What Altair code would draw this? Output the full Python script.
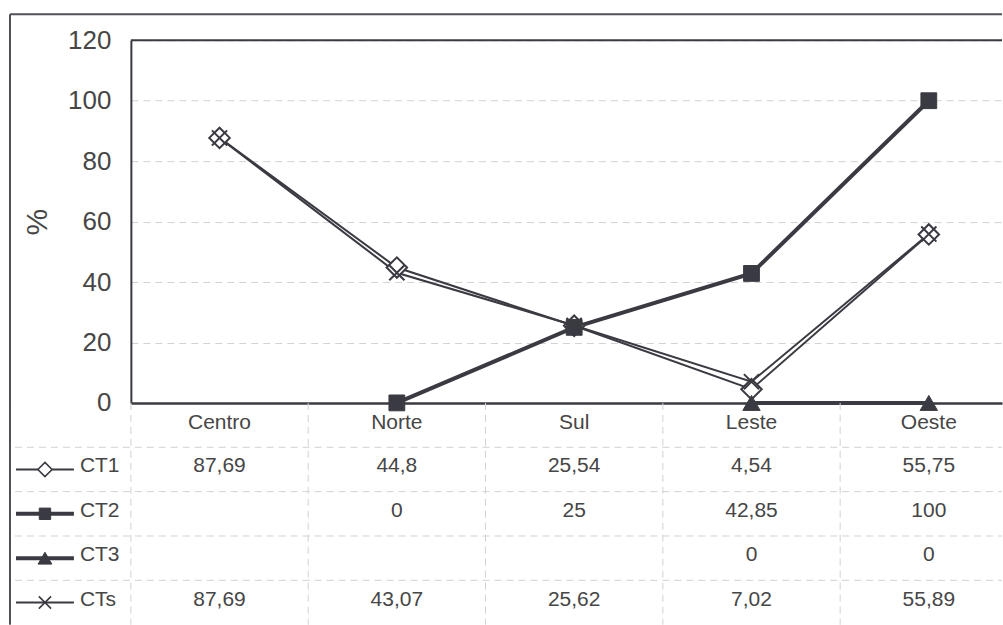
import altair as alt
import pandas as pd

# --- data -------------------------------------------------------------
regions = ["Centro", "Norte", "Sul", "Leste", "Oeste"]
series_names = ["CT1", "CT2", "CT3", "CTs"]
ct1 = [87.69, 44.8, 25.54, 4.54, 55.75]
ct2 = [None, 0, 25, 42.85, 100]
ct3 = [None, None, None, 0, 0]
cts = [87.69, 43.07, 25.62, 7.02, 55.89]
y_ticks = [0, 20, 40, 60, 80, 100, 120]

values_by_series = dict(zip(series_names, [ct1, ct2, ct3, cts]))

records = []
for s_i, name in enumerate(series_names):
    for r_i, region in enumerate(regions):
        v = values_by_series[name][r_i]
        if v is None:
            continue
        records.append({
            "serie": name,
            "row": s_i + 1,
            "regiao": region,
            "idx": r_i,
            "valor": v,
            "rotulo": f"{v:g}".replace(".", ","),
        })
df = pd.DataFrame(records)
header_df = pd.DataFrame({"regiao": regions, "idx": list(range(len(regions))), "row": 0})
legend_df = pd.DataFrame({"serie": series_names, "row": list(range(1, len(series_names) + 1))})
col_bounds = pd.DataFrame({"b": [i - 0.5 for i in range(len(regions))]})
row_bounds = pd.DataFrame({"b": [r + 0.5 for r in range(len(series_names))]})

# --- style ------------------------------------------------------------
FONT = "Liberation Sans"
INK = "#3a3a42"
TEXT = "#464646"
GRID = "#d2d2d2"
W, H_TOP, H_TAB = 872, 363, 222

x_scale = alt.Scale(domain=[-0.5, 4.4127], nice=False, zero=False)
y_scale = alt.Scale(domain=[0, 120], nice=False)
row_scale = alt.Scale(domain=[-0.5, 4.5], reverse=True, nice=False, zero=False)
line_widths = {"CT1": 2, "CT2": 4, "CT3": 4, "CTs": 2}

x_enc = alt.X(
    "idx:Q", scale=x_scale,
    axis=alt.Axis(labels=False, ticks=False, grid=False, domain=True,
                  domainColor=INK, domainWidth=2.5, title=None),
)
y_enc = alt.Y(
    "valor:Q", scale=y_scale,
    axis=alt.Axis(
        values=y_ticks, title="%", titleFont=FONT, titleFontSize=30,
        titleFontWeight="normal", titleColor=TEXT, titleAngle=270,
        titleX=-93, titleY=H_TOP / 2, titleAlign="center", titleBaseline="middle",
        labelFont=FONT, labelFontSize=26, labelColor=TEXT, labelPadding=20,
        ticks=False, domain=True, domainColor=INK, domainWidth=2,
        grid=True, gridColor=GRID, gridDash=[7, 5], gridWidth=1,
    ),
)

one = pd.DataFrame({"k": [0]})

# --- line chart -------------------------------------------------------
frame_left_top = alt.Chart(one).mark_rule(color="#505058", strokeWidth=2).encode(
    x=alt.value(-121), y=alt.value(-26), y2=alt.value(H_TOP)
)
frame_top = alt.Chart(one).mark_rule(color="#505058", strokeWidth=2).encode(
    x=alt.value(-121), x2=alt.value(W), y=alt.value(-26)
)
top_border = alt.Chart(one).mark_rule(color=INK, strokeWidth=2).encode(
    y=alt.datum(120, scale=y_scale)
)

base = alt.Chart(df)
lines = [
    base.transform_filter(alt.datum.serie == name)
    .mark_line(color=INK, strokeWidth=line_widths[name])
    .encode(x=x_enc, y=y_enc, order="idx:Q")
    for name in series_names
]

marker_styles = {
    "CT1": dict(shape="diamond", size=420, filled=True, fill="white", stroke=INK, strokeWidth=2),
    "CT2": dict(shape="square", size=250, filled=True, fill=INK, stroke=INK, strokeWidth=1),
    "CT3": dict(shape="triangle-up", size=300, filled=True, fill=INK, stroke=INK, strokeWidth=1),
    "CTs": dict(shape="M-1,-1L1,1M-1,1L1,-1", size=230, filled=False, stroke=INK, strokeWidth=2),
}
legend_marker_styles = {
    "CT1": dict(shape="diamond", size=200, filled=True, fill="white", stroke=INK, strokeWidth=1.6),
    "CT2": dict(shape="square", size=130, filled=True, fill=INK, stroke=INK, strokeWidth=1),
    "CT3": dict(shape="triangle-up", size=190, filled=True, fill=INK, stroke=INK, strokeWidth=1),
    "CTs": dict(shape="M-1,-1L1,1M-1,1L1,-1", size=150, filled=False, stroke=INK, strokeWidth=1.6),
}

markers = [
    base.transform_filter(alt.datum.serie == name)
    .mark_point(opacity=1, **marker_styles[name])
    .encode(x=x_enc, y=y_enc)
    for name in series_names
]

top = alt.layer(
    frame_left_top, frame_top, *lines, *markers, top_border
).properties(width=W, height=H_TOP)

# --- data table -------------------------------------------------------
x_tab = alt.X("idx:Q", scale=x_scale, axis=None)
y_tab = alt.Y("row:Q", scale=row_scale, axis=None)

v_lines = alt.Chart(col_bounds).mark_rule(color=GRID, strokeDash=[7, 5], strokeWidth=1).encode(
    x=alt.X("b:Q", scale=x_scale, axis=None)
)
h_lines = alt.Chart(row_bounds).mark_rule(color=GRID, strokeDash=[7, 5], strokeWidth=1).encode(
    y=alt.Y("b:Q", scale=row_scale, axis=None), x=alt.value(-116), x2=alt.value(W)
)
frame_left_tab = alt.Chart(one).mark_rule(color="#505058", strokeWidth=2).encode(
    x=alt.value(-121), y=alt.value(0), y2=alt.value(H_TAB)
)

header_text = alt.Chart(header_df).mark_text(
    font=FONT, fontSize=21, color=TEXT, dy=-2
).encode(x=x_tab, y=y_tab, text="regiao:N")

value_text = alt.Chart(df).mark_text(
    font=FONT, fontSize=21, color=TEXT, dy=-3
).encode(x=x_tab, y=y_tab, text="rotulo:N")

legend_base = alt.Chart(legend_df)
legend_lines = [
    legend_base.transform_filter(alt.datum.serie == name)
    .mark_rule(color=INK, strokeWidth=line_widths[name])
    .encode(x=alt.value(-115), x2=alt.value(-57), y=y_tab)
    for name in series_names
]
legend_markers = [
    legend_base.transform_filter(alt.datum.serie == name)
    .mark_point(opacity=1, **legend_marker_styles[name])
    .encode(x=alt.value(-86), y=y_tab)
    for name in series_names
]
legend_labels = legend_base.mark_text(
    font=FONT, fontSize=21, color=TEXT, align="left", dy=-3
).encode(x=alt.value(-51), y=y_tab, text="serie:N")

table = alt.layer(
    v_lines, h_lines, frame_left_tab, header_text, value_text,
    *legend_lines, *legend_markers, legend_labels
).properties(width=W, height=H_TAB)

chart = alt.vconcat(top, table, spacing=0, bounds="flush").properties(
    padding={"left": 9, "top": 13, "right": 0, "bottom": 0},
    background="white",
).configure_view(stroke=None)

chart.save("out.html", embed_options={"renderer": "svg", "actions": False})
